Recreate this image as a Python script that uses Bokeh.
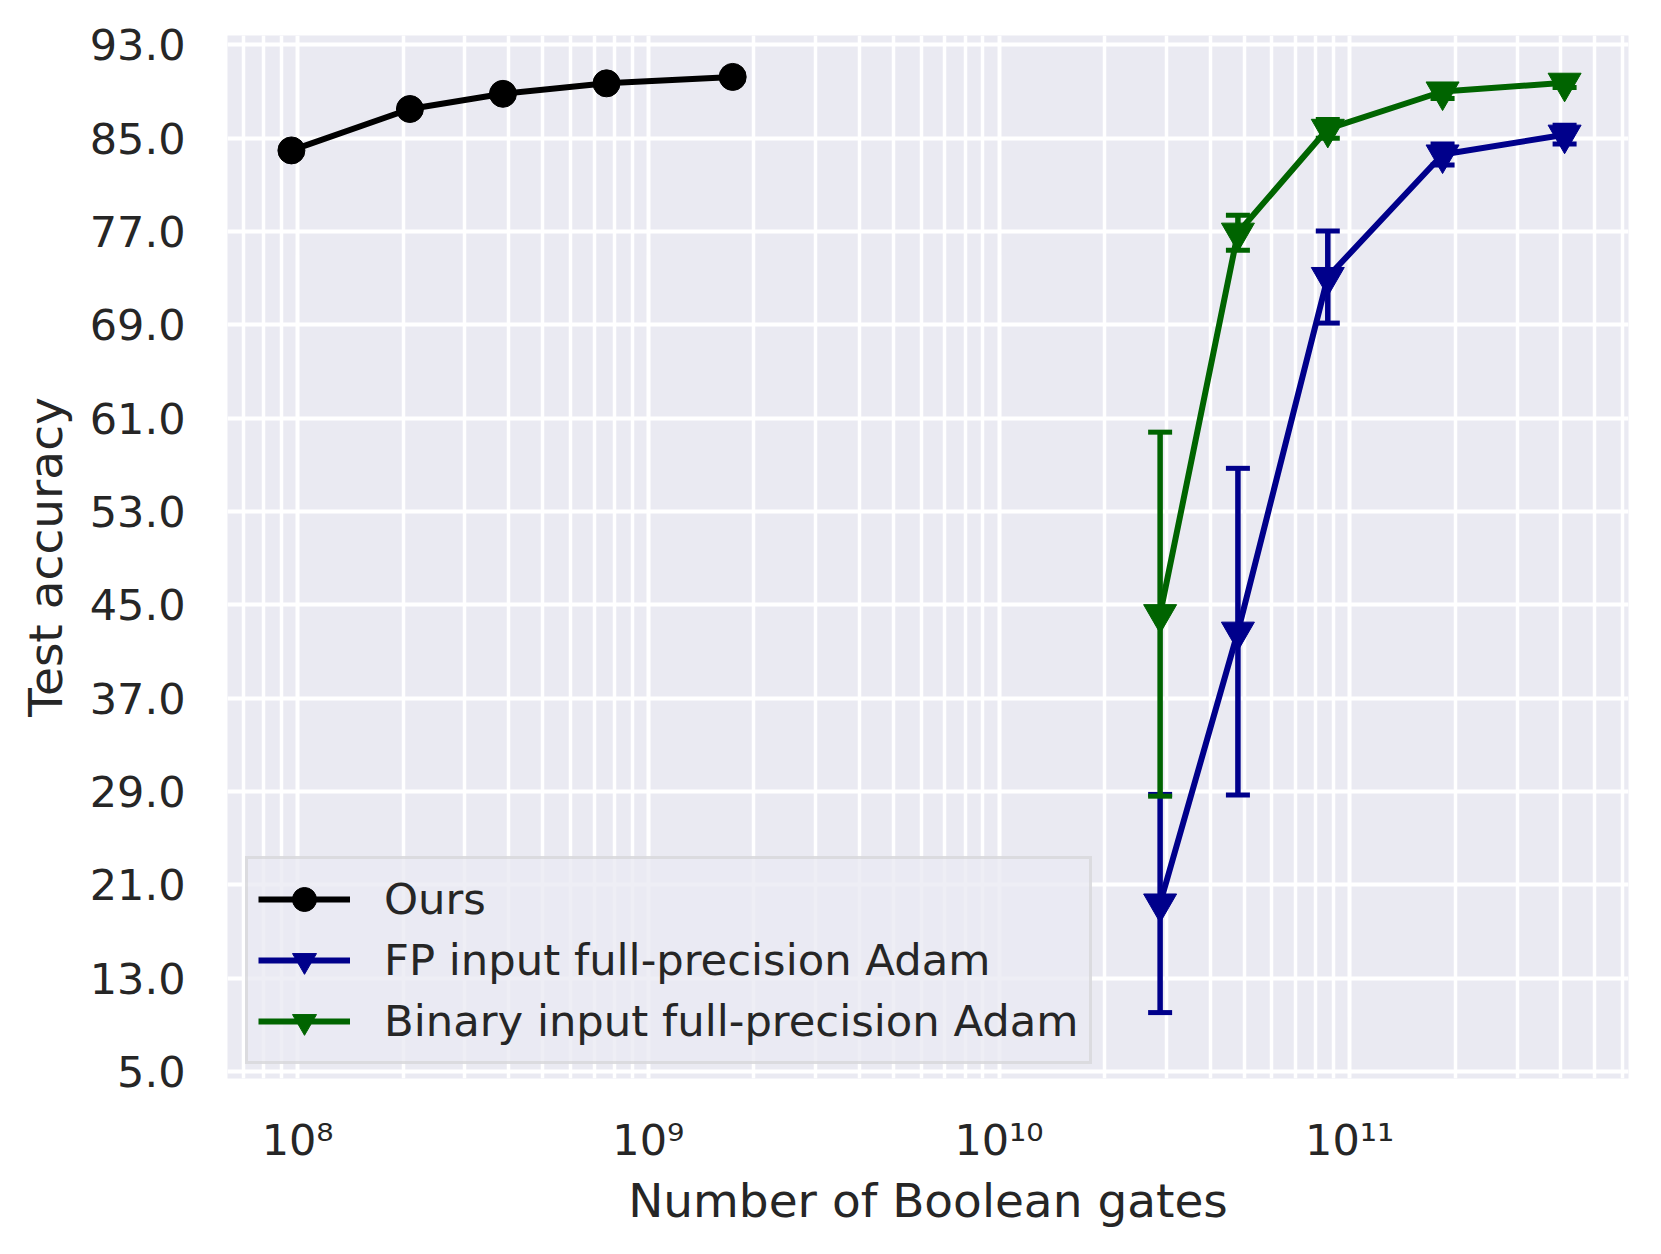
from bokeh.plotting import figure
from bokeh.models import (FixedTicker, PrintfTickFormatter, CustomJSTickFormatter,
                          Range1d, Legend, LegendItem, ColumnDataSource)
from bokeh.embed import file_html
from bokeh.resources import INLINE

# ---------------- data ----------------
ours_x = [9.6e7, 2.09e8, 3.85e8, 7.6e8, 1.74e9]
ours_y = [83.95, 87.5, 88.8, 89.7, 90.25]
ours_err = [0.3, 0.2, 0.2, 0.2, 0.1]

adam_x = [2.88e10, 4.8e10, 8.66e10, 1.84e11, 4.1e11]
fp_y = [19.4, 42.7, 73.1, 83.6, 85.3]
fp_err = [9.35, 14.0, 3.95, 0.9, 0.8]
bin_y = [44.2, 76.9, 85.8, 89.0, 89.75]
bin_err = [15.6, 1.5, 0.8, 0.6, 0.4]

series_names = ["Ours", "FP input full-precision Adam", "Binary input full-precision Adam"]
series_colors = ["black", "#00008B", "#006400"]
series_markers = ["circle", "inverted_triangle", "inverted_triangle"]

y_ticks = [5, 13, 21, 29, 37, 45, 53, 61, 69, 77, 85, 93]
x_major_ticks = [1e8, 1e9, 1e10, 1e11]
x_minor_ticks = [k * 10.0 ** e for e in range(7, 12) for k in range(2, 10)]

x_label = "Number of Boolean gates"
y_label = "Test accuracy"

FONT = "DejaVu Sans"
TXT = "#262626"

p = figure(width=1640, height=1230, x_axis_type="log",
           x_range=Range1d(10 ** 7.80, 10 ** 11.795), y_range=Range1d(4.4, 93.8),
           output_backend="svg", toolbar_location=None,
           min_border_left=227, min_border_right=12, min_border_top=35, min_border_bottom=150)

p.background_fill_color = "#EAEAF2"
p.border_fill_color = "white"
p.outline_line_color = None

xt = FixedTicker(ticks=x_major_ticks, minor_ticks=x_minor_ticks)
yt = FixedTicker(ticks=y_ticks, minor_ticks=[])
p.xaxis.ticker = xt
p.xgrid.ticker = xt
p.yaxis.ticker = yt
p.ygrid.ticker = yt

p.xaxis.formatter = CustomJSTickFormatter(code="""
const sup = {"0":"\u2070","1":"\u00b9","2":"\u00b2","3":"\u00b3","4":"\u2074",
             "5":"\u2075","6":"\u2076","7":"\u2077","8":"\u2078","9":"\u2079","-":"\u207b"};
const e = Math.round(Math.log10(tick));
return "10" + String(e).split("").map(c => sup[c]).join("");
""")
p.yaxis.formatter = PrintfTickFormatter(format="%.1f")

p.xgrid.grid_line_color = "white"
p.xgrid.grid_line_width = 4
p.xgrid.minor_grid_line_color = "white"
p.xgrid.minor_grid_line_width = 3.5
p.ygrid.grid_line_color = "white"
p.ygrid.grid_line_width = 4

for ax in (p.xaxis, p.yaxis):
    ax.axis_line_color = None
    ax.major_tick_line_color = None
    ax.minor_tick_line_color = None
    ax.major_label_text_font = FONT
    ax.major_label_text_font_size = "43px"
    ax.major_label_text_color = TXT
    ax.axis_label_text_font = FONT
    ax.axis_label_text_font_size = "47px"
    ax.axis_label_text_font_style = "normal"
    ax.axis_label_text_color = TXT

p.xaxis.axis_label = x_label
p.yaxis.axis_label = y_label
p.yaxis.major_label_standoff = 36
p.xaxis.major_label_standoff = 30
p.yaxis.axis_label_standoff = 14
p.xaxis.axis_label_standoff = 5

legend_items = []
for name, xs, ys, es, col, mk in [
        (series_names[0], ours_x, ours_y, ours_err, series_colors[0], series_markers[0]),
        (series_names[1], adam_x, fp_y, fp_err, series_colors[1], series_markers[1]),
        (series_names[2], adam_x, bin_y, bin_err, series_colors[2], series_markers[2])]:
    src = ColumnDataSource(dict(x=xs, y=ys,
                                lo=[a - b for a, b in zip(ys, es)],
                                hi=[a + b for a, b in zip(ys, es)]))
    p.segment(x0="x", y0="lo", x1="x", y1="hi", source=src, line_color=col, line_width=5.5)
    p.scatter(x="x", y="lo", source=src, marker="dash", size=24, line_color=col, line_width=5)
    p.scatter(x="x", y="hi", source=src, marker="dash", size=24, line_color=col, line_width=5)
    lr = p.line(x="x", y="y", source=src, line_color=col, line_width=6)
    sz = 27 if mk == "circle" else 33
    mr = p.scatter(x="x", y="y", source=src, marker=mk, size=sz, fill_color=col, line_color=col)
    legend_items.append(LegendItem(label=name, renderers=[lr, mr]))

legend = Legend(items=legend_items, location=(18, 14), margin=0,
                label_text_font=FONT, label_text_font_size="43.3px", label_text_color=TXT,
                glyph_width=92, glyph_height=60, label_height=60, spacing=1,
                label_standoff=34, padding=10,
                background_fill_color="#EAEAF2", background_fill_alpha=0.8,
                border_line_color="#cccccc", border_line_width=3)
p.add_layout(legend)

open("out.html", "w").write(file_html(p, INLINE))
